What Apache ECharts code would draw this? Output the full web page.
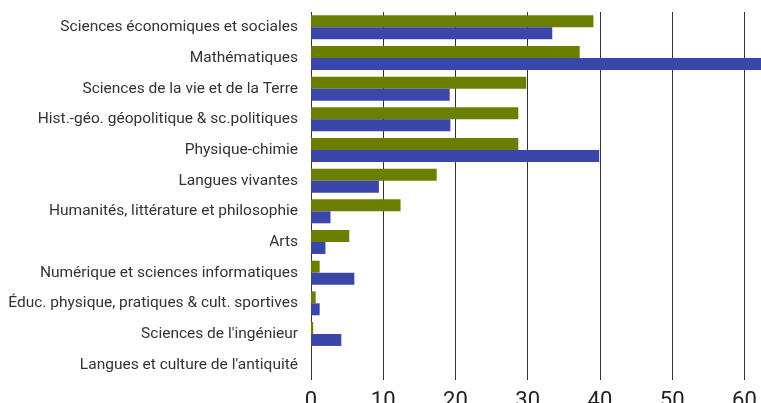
<!DOCTYPE html>
<html>
<head>
<meta charset="utf-8">
<script src="https://cdn.jsdelivr.net/npm/echarts@6/dist/echarts.min.js"></script>
<style>
  html, body { margin: 0; padding: 0; background: #fff; }
  #main { width: 761px; height: 403px; }
</style>
</head>
<body>
<div id="main"></div>
<script>
var categories = [
    "Sciences économiques et sociales",
    "Mathématiques",
    "Sciences de la vie et de la Terre",
    "Hist.-géo. géopolitique & sc.politiques",
    "Physique-chimie",
    "Langues vivantes",
    "Humanités, littérature et philosophie",
    "Arts",
    "Numérique et sciences informatiques",
    "Éduc. physique, pratiques & cult. sportives",
    "Sciences de l'ingénieur",
    "Langues et culture de l'antiquité"
];
var greenValues = [39.1, 37.2, 29.8, 28.7, 28.7, 17.4, 12.4, 5.3, 1.2, 0.65, 0.3, 0];
var blueValues = [33.4, 62.5, 19.2, 19.3, 39.9, 9.4, 2.7, 2.0, 6.0, 1.2, 4.2, 0];

window.onload = function () {
    var myChart = echarts.init(document.getElementById('main'));
    myChart.setOption({
        animation: false,
        grid: {
            left: 311,
            right: 0,
            top: 12,
            bottom: 23,
            outerBoundsMode: 'none'
        },
        xAxis: {
            type: 'value',
            min: 0,
            max: 62.3,
            interval: 10,
            axisLine: { show: false },
            axisTick: { show: false },
            axisLabel: {
                showMaxLabel: false,
                margin: 10,
                fontSize: 22,
                fontFamily: 'Roboto',
                color: '#222'
            },
            splitLine: {
                lineStyle: { color: '#333', width: 1 }
            }
        },
        yAxis: {
            type: 'category',
            inverse: true,
            data: categories,
            axisLine: { show: false },
            axisTick: { show: false },
            axisLabel: {
                margin: 13,
                fontSize: 15.5,
                fontFamily: 'Roboto',
                color: '#333'
            }
        },
        series: [{
            type: 'bar',
            data: greenValues,
            barGap: 0,
            barCategoryGap: '22%',
            itemStyle: { color: '#6a7f00' }
        }, {
            type: 'bar',
            data: blueValues,
            barGap: 0,
            barCategoryGap: '22%',
            itemStyle: { color: '#3a46aa' }
        }]
    });
}
</script>
</body>
</html>
